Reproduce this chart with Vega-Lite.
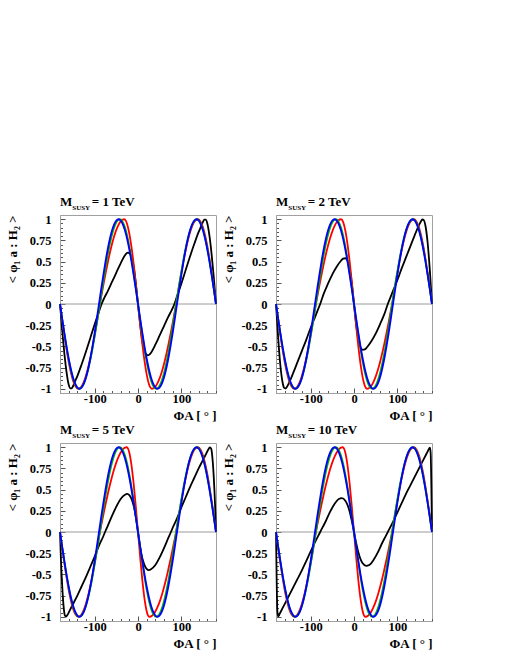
{
"$schema": "https://vega.github.io/schema/vega-lite/v6.json",
"background": "white",
"padding": {"left": 6, "top": 195, "right": 0, "bottom": 0},
"datasets": {
"zero": [{"x":-180,"y":0},{"x":180,"y":0}],
"blue": [{"x":-180,"y":0},{"x":-175,"y":-0.174},{"x":-170,"y":-0.342},{"x":-165,"y":-0.5},{"x":-160,"y":-0.643},{"x":-155,"y":-0.766},{"x":-150,"y":-0.866},{"x":-145,"y":-0.94},{"x":-140,"y":-0.985},{"x":-135,"y":-1},{"x":-130,"y":-0.985},{"x":-125,"y":-0.94},{"x":-120,"y":-0.866},{"x":-115,"y":-0.766},{"x":-110,"y":-0.643},{"x":-105,"y":-0.5},{"x":-100,"y":-0.342},{"x":-95,"y":-0.174},{"x":-90,"y":0},{"x":-85,"y":0.174},{"x":-80,"y":0.342},{"x":-75,"y":0.5},{"x":-70,"y":0.643},{"x":-65,"y":0.766},{"x":-60,"y":0.866},{"x":-55,"y":0.94},{"x":-50,"y":0.985},{"x":-45,"y":1},{"x":-40,"y":0.985},{"x":-35,"y":0.94},{"x":-30,"y":0.866},{"x":-25,"y":0.766},{"x":-20,"y":0.643},{"x":-15,"y":0.5},{"x":-10,"y":0.342},{"x":-5,"y":0.174},{"x":0,"y":0},{"x":5,"y":-0.174},{"x":10,"y":-0.342},{"x":15,"y":-0.5},{"x":20,"y":-0.643},{"x":25,"y":-0.766},{"x":30,"y":-0.866},{"x":35,"y":-0.94},{"x":40,"y":-0.985},{"x":45,"y":-1},{"x":50,"y":-0.985},{"x":55,"y":-0.94},{"x":60,"y":-0.866},{"x":65,"y":-0.766},{"x":70,"y":-0.643},{"x":75,"y":-0.5},{"x":80,"y":-0.342},{"x":85,"y":-0.174},{"x":90,"y":0},{"x":95,"y":0.174},{"x":100,"y":0.342},{"x":105,"y":0.5},{"x":110,"y":0.643},{"x":115,"y":0.766},{"x":120,"y":0.866},{"x":125,"y":0.94},{"x":130,"y":0.985},{"x":135,"y":1},{"x":140,"y":0.985},{"x":145,"y":0.94},{"x":150,"y":0.866},{"x":155,"y":0.766},{"x":160,"y":0.643},{"x":165,"y":0.5},{"x":170,"y":0.342},{"x":175,"y":0.174},{"x":180,"y":0}],
"green": [{"x":-180,"y":0},{"x":-175,"y":-0.177},{"x":-170,"y":-0.35},{"x":-165,"y":-0.51},{"x":-160,"y":-0.655},{"x":-155,"y":-0.778},{"x":-150,"y":-0.878},{"x":-145,"y":-0.949},{"x":-140,"y":-0.99},{"x":-136,"y":-1},{"x":-130,"y":-0.981},{"x":-125,"y":-0.936},{"x":-120,"y":-0.866},{"x":-115,"y":-0.773},{"x":-110,"y":-0.659},{"x":-105,"y":-0.528},{"x":-100,"y":-0.383},{"x":-95,"y":-0.227},{"x":-88,"y":0},{"x":-85,"y":0.102},{"x":-80,"y":0.269},{"x":-75,"y":0.429},{"x":-70,"y":0.576},{"x":-65,"y":0.707},{"x":-60,"y":0.817},{"x":-55,"y":0.903},{"x":-50,"y":0.963},{"x":-45,"y":0.995},{"x":-42,"y":1},{"x":-35,"y":0.966},{"x":-30,"y":0.901},{"x":-25,"y":0.805},{"x":-20,"y":0.68},{"x":-15,"y":0.532},{"x":-10,"y":0.365},{"x":-5,"y":0.186},{"x":0,"y":0},{"x":5,"y":-0.186},{"x":10,"y":-0.365},{"x":15,"y":-0.532},{"x":20,"y":-0.68},{"x":25,"y":-0.805},{"x":30,"y":-0.901},{"x":35,"y":-0.966},{"x":42,"y":-1},{"x":45,"y":-0.995},{"x":50,"y":-0.963},{"x":55,"y":-0.903},{"x":60,"y":-0.817},{"x":65,"y":-0.707},{"x":70,"y":-0.576},{"x":75,"y":-0.429},{"x":80,"y":-0.269},{"x":85,"y":-0.102},{"x":88,"y":0},{"x":95,"y":0.227},{"x":100,"y":0.383},{"x":105,"y":0.528},{"x":110,"y":0.659},{"x":115,"y":0.773},{"x":120,"y":0.866},{"x":125,"y":0.936},{"x":130,"y":0.981},{"x":136,"y":1},{"x":140,"y":0.99},{"x":145,"y":0.949},{"x":150,"y":0.878},{"x":155,"y":0.778},{"x":160,"y":0.655},{"x":165,"y":0.51},{"x":170,"y":0.35},{"x":175,"y":0.177},{"x":180,"y":0}],
"r1": [{"x":-180,"y":0},{"x":-175,"y":-0.186},{"x":-170,"y":-0.365},{"x":-165,"y":-0.532},{"x":-160,"y":-0.681},{"x":-155,"y":-0.805},{"x":-150,"y":-0.901},{"x":-145,"y":-0.966},{"x":-138,"y":-1},{"x":-130,"y":-0.969},{"x":-125,"y":-0.918},{"x":-120,"y":-0.844},{"x":-115,"y":-0.75},{"x":-110,"y":-0.637},{"x":-105,"y":-0.509},{"x":-100,"y":-0.368},{"x":-95,"y":-0.218},{"x":-88,"y":0},{"x":-85,"y":0.084},{"x":-80,"y":0.223},{"x":-75,"y":0.357},{"x":-70,"y":0.484},{"x":-65,"y":0.601},{"x":-60,"y":0.707},{"x":-55,"y":0.799},{"x":-50,"y":0.875},{"x":-45,"y":0.934},{"x":-40,"y":0.975},{"x":-35,"y":0.996},{"x":-32,"y":1},{"x":-28,"y":0.981},{"x":-25,"y":0.941},{"x":-20,"y":0.831},{"x":-15,"y":0.672},{"x":-10,"y":0.471},{"x":-5,"y":0.243},{"x":0,"y":0},{"x":5,"y":-0.243},{"x":10,"y":-0.471},{"x":15,"y":-0.672},{"x":20,"y":-0.831},{"x":25,"y":-0.941},{"x":28,"y":-0.981},{"x":32,"y":-1},{"x":35,"y":-0.996},{"x":40,"y":-0.975},{"x":45,"y":-0.934},{"x":50,"y":-0.875},{"x":55,"y":-0.799},{"x":60,"y":-0.707},{"x":65,"y":-0.601},{"x":70,"y":-0.484},{"x":75,"y":-0.357},{"x":80,"y":-0.223},{"x":85,"y":-0.084},{"x":88,"y":0},{"x":95,"y":0.218},{"x":100,"y":0.368},{"x":105,"y":0.509},{"x":110,"y":0.637},{"x":115,"y":0.75},{"x":120,"y":0.844},{"x":125,"y":0.918},{"x":130,"y":0.969},{"x":138,"y":1},{"x":145,"y":0.966},{"x":150,"y":0.901},{"x":155,"y":0.805},{"x":160,"y":0.681},{"x":165,"y":0.532},{"x":170,"y":0.365},{"x":175,"y":0.186},{"x":180,"y":0}],
"r2": [{"x":-180,"y":0},{"x":-175,"y":-0.186},{"x":-170,"y":-0.365},{"x":-165,"y":-0.532},{"x":-160,"y":-0.681},{"x":-155,"y":-0.805},{"x":-150,"y":-0.901},{"x":-145,"y":-0.966},{"x":-138,"y":-1},{"x":-130,"y":-0.969},{"x":-125,"y":-0.918},{"x":-120,"y":-0.844},{"x":-115,"y":-0.75},{"x":-110,"y":-0.637},{"x":-105,"y":-0.509},{"x":-100,"y":-0.368},{"x":-95,"y":-0.218},{"x":-88,"y":0},{"x":-85,"y":0.08},{"x":-80,"y":0.215},{"x":-75,"y":0.345},{"x":-70,"y":0.468},{"x":-65,"y":0.583},{"x":-60,"y":0.687},{"x":-55,"y":0.779},{"x":-50,"y":0.857},{"x":-45,"y":0.918},{"x":-40,"y":0.964},{"x":-35,"y":0.991},{"x":-30,"y":1},{"x":-25,"y":0.966},{"x":-20,"y":0.866},{"x":-15,"y":0.707},{"x":-10,"y":0.5},{"x":-5,"y":0.259},{"x":0,"y":0},{"x":5,"y":-0.259},{"x":10,"y":-0.5},{"x":15,"y":-0.707},{"x":20,"y":-0.866},{"x":25,"y":-0.966},{"x":30,"y":-1},{"x":35,"y":-0.991},{"x":40,"y":-0.964},{"x":45,"y":-0.918},{"x":50,"y":-0.857},{"x":55,"y":-0.779},{"x":60,"y":-0.687},{"x":65,"y":-0.583},{"x":70,"y":-0.468},{"x":75,"y":-0.345},{"x":80,"y":-0.215},{"x":85,"y":-0.08},{"x":88,"y":0},{"x":95,"y":0.218},{"x":100,"y":0.368},{"x":105,"y":0.509},{"x":110,"y":0.637},{"x":115,"y":0.75},{"x":120,"y":0.844},{"x":125,"y":0.918},{"x":130,"y":0.969},{"x":138,"y":1},{"x":145,"y":0.966},{"x":150,"y":0.901},{"x":155,"y":0.805},{"x":160,"y":0.681},{"x":165,"y":0.532},{"x":170,"y":0.365},{"x":175,"y":0.186},{"x":180,"y":0}],
"r34": [{"x":-180,"y":0},{"x":-175,"y":-0.186},{"x":-170,"y":-0.365},{"x":-165,"y":-0.532},{"x":-160,"y":-0.681},{"x":-155,"y":-0.805},{"x":-150,"y":-0.901},{"x":-145,"y":-0.966},{"x":-138,"y":-1},{"x":-130,"y":-0.969},{"x":-125,"y":-0.918},{"x":-120,"y":-0.844},{"x":-115,"y":-0.75},{"x":-110,"y":-0.637},{"x":-105,"y":-0.509},{"x":-100,"y":-0.368},{"x":-95,"y":-0.218},{"x":-88,"y":0},{"x":-85,"y":0.076},{"x":-80,"y":0.201},{"x":-75,"y":0.324},{"x":-70,"y":0.44},{"x":-65,"y":0.551},{"x":-60,"y":0.651},{"x":-55,"y":0.742},{"x":-50,"y":0.821},{"x":-45,"y":0.886},{"x":-40,"y":0.938},{"x":-35,"y":0.974},{"x":-30,"y":0.995},{"x":-26,"y":1},{"x":-23,"y":0.984},{"x":-20,"y":0.935},{"x":-15,"y":0.787},{"x":-10,"y":0.568},{"x":-5,"y":0.297},{"x":0,"y":0},{"x":5,"y":-0.297},{"x":10,"y":-0.568},{"x":15,"y":-0.787},{"x":20,"y":-0.935},{"x":23,"y":-0.984},{"x":26,"y":-1},{"x":30,"y":-0.995},{"x":35,"y":-0.974},{"x":40,"y":-0.938},{"x":45,"y":-0.886},{"x":50,"y":-0.821},{"x":55,"y":-0.742},{"x":60,"y":-0.651},{"x":65,"y":-0.551},{"x":70,"y":-0.44},{"x":75,"y":-0.324},{"x":80,"y":-0.201},{"x":85,"y":-0.076},{"x":88,"y":0},{"x":95,"y":0.218},{"x":100,"y":0.368},{"x":105,"y":0.509},{"x":110,"y":0.637},{"x":115,"y":0.75},{"x":120,"y":0.844},{"x":125,"y":0.918},{"x":130,"y":0.969},{"x":138,"y":1},{"x":145,"y":0.966},{"x":150,"y":0.901},{"x":155,"y":0.805},{"x":160,"y":0.681},{"x":165,"y":0.532},{"x":170,"y":0.365},{"x":175,"y":0.186},{"x":180,"y":0}],
"k1": [{"x":-180,"y":0},{"x":-175,"y":-0.31},{"x":-170,"y":-0.58},{"x":-165,"y":-0.8},{"x":-160,"y":-0.95},{"x":-156,"y":-0.995},{"x":-153,"y":-0.995},{"x":-150,"y":-0.97},{"x":-145,"y":-0.91},{"x":-140,"y":-0.85},{"x":-130,"y":-0.71},{"x":-120,"y":-0.56},{"x":-110,"y":-0.4},{"x":-100,"y":-0.24},{"x":-90,"y":-0.09},{"x":-84,"y":0},{"x":-78,"y":0.07},{"x":-70,"y":0.15},{"x":-60,"y":0.26},{"x":-50,"y":0.37},{"x":-40,"y":0.48},{"x":-30,"y":0.575},{"x":-27,"y":0.595},{"x":-23,"y":0.605},{"x":-20,"y":0.598},{"x":-15,"y":0.56},{"x":-10,"y":0.44},{"x":-5,"y":0.24},{"x":0,"y":0},{"x":5,"y":-0.24},{"x":10,"y":-0.44},{"x":15,"y":-0.56},{"x":20,"y":-0.598},{"x":23,"y":-0.605},{"x":27,"y":-0.595},{"x":30,"y":-0.575},{"x":40,"y":-0.48},{"x":50,"y":-0.37},{"x":60,"y":-0.26},{"x":70,"y":-0.15},{"x":78,"y":-0.07},{"x":84,"y":0},{"x":90,"y":0.09},{"x":100,"y":0.24},{"x":110,"y":0.4},{"x":120,"y":0.56},{"x":130,"y":0.71},{"x":140,"y":0.85},{"x":145,"y":0.91},{"x":150,"y":0.97},{"x":153,"y":0.995},{"x":156,"y":0.995},{"x":160,"y":0.95},{"x":165,"y":0.8},{"x":170,"y":0.58},{"x":175,"y":0.31},{"x":180,"y":0}],
"k2": [{"x":-180,"y":0},{"x":-175,"y":-0.4},{"x":-170,"y":-0.72},{"x":-165,"y":-0.92},{"x":-161,"y":-0.99},{"x":-158,"y":-0.997},{"x":-155,"y":-0.98},{"x":-150,"y":-0.93},{"x":-140,"y":-0.81},{"x":-130,"y":-0.68},{"x":-120,"y":-0.55},{"x":-110,"y":-0.42},{"x":-100,"y":-0.28},{"x":-90,"y":-0.155},{"x":-85,"y":-0.09},{"x":-78,"y":0},{"x":-70,"y":0.12},{"x":-60,"y":0.24},{"x":-50,"y":0.35},{"x":-40,"y":0.44},{"x":-30,"y":0.51},{"x":-25,"y":0.535},{"x":-20,"y":0.54},{"x":-15,"y":0.51},{"x":-10,"y":0.42},{"x":-5,"y":0.24},{"x":0,"y":0},{"x":5,"y":-0.24},{"x":10,"y":-0.42},{"x":15,"y":-0.51},{"x":20,"y":-0.54},{"x":25,"y":-0.535},{"x":30,"y":-0.51},{"x":40,"y":-0.44},{"x":50,"y":-0.35},{"x":60,"y":-0.24},{"x":70,"y":-0.12},{"x":78,"y":0},{"x":85,"y":0.09},{"x":90,"y":0.155},{"x":100,"y":0.28},{"x":110,"y":0.42},{"x":120,"y":0.55},{"x":130,"y":0.68},{"x":140,"y":0.81},{"x":150,"y":0.93},{"x":155,"y":0.98},{"x":158,"y":0.997},{"x":161,"y":0.99},{"x":165,"y":0.92},{"x":170,"y":0.72},{"x":175,"y":0.4},{"x":180,"y":0}],
"k3": [{"x":-180,"y":0},{"x":-178,"y":-0.3},{"x":-175,"y":-0.63},{"x":-172,"y":-0.86},{"x":-169,"y":-0.98},{"x":-166,"y":-0.998},{"x":-163,"y":-0.98},{"x":-158,"y":-0.93},{"x":-150,"y":-0.85},{"x":-140,"y":-0.75},{"x":-130,"y":-0.64},{"x":-120,"y":-0.53},{"x":-110,"y":-0.41},{"x":-100,"y":-0.29},{"x":-90,"y":-0.16},{"x":-80,"y":-0.05},{"x":-76,"y":0},{"x":-70,"y":0.07},{"x":-60,"y":0.19},{"x":-50,"y":0.3},{"x":-40,"y":0.39},{"x":-30,"y":0.44},{"x":-25,"y":0.45},{"x":-20,"y":0.435},{"x":-15,"y":0.39},{"x":-10,"y":0.31},{"x":-5,"y":0.18},{"x":0,"y":0},{"x":5,"y":-0.18},{"x":10,"y":-0.31},{"x":15,"y":-0.39},{"x":20,"y":-0.435},{"x":25,"y":-0.45},{"x":30,"y":-0.44},{"x":40,"y":-0.39},{"x":50,"y":-0.3},{"x":60,"y":-0.19},{"x":70,"y":-0.07},{"x":76,"y":0},{"x":80,"y":0.05},{"x":90,"y":0.16},{"x":100,"y":0.29},{"x":110,"y":0.41},{"x":120,"y":0.53},{"x":130,"y":0.64},{"x":140,"y":0.75},{"x":150,"y":0.85},{"x":158,"y":0.93},{"x":163,"y":0.98},{"x":166,"y":0.998},{"x":169,"y":0.98},{"x":172,"y":0.86},{"x":175,"y":0.63},{"x":178,"y":0.3},{"x":180,"y":0}],
"k4": [{"x":-180,"y":0},{"x":-178.5,"y":-0.55},{"x":-177,"y":-0.92},{"x":-175.5,"y":-0.995},{"x":-174,"y":-0.99},{"x":-171,"y":-0.96},{"x":-167,"y":-0.92},{"x":-160,"y":-0.85},{"x":-150,"y":-0.75},{"x":-140,"y":-0.65},{"x":-130,"y":-0.55},{"x":-120,"y":-0.45},{"x":-110,"y":-0.34},{"x":-100,"y":-0.23},{"x":-90,"y":-0.12},{"x":-78,"y":0},{"x":-72,"y":0.06},{"x":-65,"y":0.13},{"x":-55,"y":0.24},{"x":-45,"y":0.33},{"x":-35,"y":0.39},{"x":-28,"y":0.4},{"x":-20,"y":0.37},{"x":-15,"y":0.32},{"x":-10,"y":0.24},{"x":-5,"y":0.13},{"x":0,"y":0},{"x":5,"y":-0.13},{"x":10,"y":-0.24},{"x":15,"y":-0.32},{"x":20,"y":-0.37},{"x":28,"y":-0.4},{"x":35,"y":-0.39},{"x":45,"y":-0.33},{"x":55,"y":-0.24},{"x":65,"y":-0.13},{"x":72,"y":-0.06},{"x":78,"y":0},{"x":90,"y":0.12},{"x":100,"y":0.23},{"x":110,"y":0.34},{"x":120,"y":0.45},{"x":130,"y":0.55},{"x":140,"y":0.65},{"x":150,"y":0.75},{"x":160,"y":0.85},{"x":167,"y":0.92},{"x":171,"y":0.96},{"x":174,"y":0.99},{"x":175.5,"y":0.995},{"x":177,"y":0.92},{"x":178.5,"y":0.55},{"x":180,"y":0}]
},
"columns": 2,
"spacing": {"row": 50, "column": 60},
"bounds": "flush",
"concat": [
{"width": 156, "height": 178,
 "title": {"text": "M\u00a0\u00a0\u00a0\u00a0\u00a0\u00a0= 1 TeV", "subtitle": "\u200b\u00a0\u00a0\u00a0\u00a0\u00a0\u00a0\u00a0SUSY"},
 "encoding": {
  "x": {"field": "x", "type": "quantitative", "scale": {"domain": [-180, 180], "nice": false, "zero": false},
    "axis": {"title": "ΦA [ ° ]", "titleAnchor": "end", "labelOverlap": false, "values": [-180,-160,-140,-120,-100,-80,-60,-40,-20,0,20,40,60,80,100,120,140,160,180], "labelExpr": "datum.value % 100 == 0 ? '' + datum.value : ''", "tickSize": {"condition": {"test": "datum.value % 100 == 0", "value": -5}, "value": -2.5}}},
  "y": {"field": "y", "type": "quantitative", "scale": {"domain": [-1.05, 1.05], "nice": false, "zero": false},
    "axis": {"title": "< φ₁ a : H₂ >", "titleAnchor": "end", "labelOverlap": false, "values": [-1,-0.95,-0.9,-0.85,-0.8,-0.75,-0.7,-0.65,-0.6,-0.55,-0.5,-0.45,-0.4,-0.35,-0.3,-0.25,-0.2,-0.15,-0.1,-0.05,0,0.05,0.1,0.15,0.2,0.25,0.3,0.35,0.4,0.45,0.5,0.55,0.6,0.65,0.7,0.75,0.8,0.85,0.9,0.95,1], "labelExpr": "abs(datum.value*4 - round(datum.value*4)) < 0.001 ? '' + datum.value : ''", "tickSize": {"condition": {"test": "abs(datum.value*4 - round(datum.value*4)) < 0.001", "value": -5}, "value": -2.5}}}},
 "layer": [
  {"data": {"name": "zero"}, "mark": {"type": "line", "color": "#9a9a9a", "strokeWidth": 1}, "encoding": {}},
  {"data": {"name": "k1"}, "mark": {"type": "line", "color": "#000000", "strokeWidth": 1.8, "interpolate": "monotone"}, "encoding": {}},
  {"data": {"name": "r1"}, "mark": {"type": "line", "color": "#ff0000", "strokeWidth": 1.8, "interpolate": "monotone"}, "encoding": {}},
  {"data": {"name": "green"}, "mark": {"type": "line", "color": "#00b000", "strokeWidth": 1.8, "interpolate": "monotone"}, "encoding": {}},
  {"data": {"name": "blue"}, "mark": {"type": "line", "color": "#0000ff", "strokeWidth": 1.8, "interpolate": "monotone"}, "encoding": {}}
 ]},
{"width": 156, "height": 178,
 "title": {"text": "M\u00a0\u00a0\u00a0\u00a0\u00a0\u00a0= 2 TeV", "subtitle": "\u200b\u00a0\u00a0\u00a0\u00a0\u00a0\u00a0\u00a0SUSY"},
 "encoding": {
  "x": {"field": "x", "type": "quantitative", "scale": {"domain": [-180, 180], "nice": false, "zero": false},
    "axis": {"title": "ΦA [ ° ]", "titleAnchor": "end", "labelOverlap": false, "values": [-180,-160,-140,-120,-100,-80,-60,-40,-20,0,20,40,60,80,100,120,140,160,180], "labelExpr": "datum.value % 100 == 0 ? '' + datum.value : ''", "tickSize": {"condition": {"test": "datum.value % 100 == 0", "value": -5}, "value": -2.5}}},
  "y": {"field": "y", "type": "quantitative", "scale": {"domain": [-1.05, 1.05], "nice": false, "zero": false},
    "axis": {"title": "< φ₁ a : H₂ >", "titleAnchor": "end", "labelOverlap": false, "values": [-1,-0.95,-0.9,-0.85,-0.8,-0.75,-0.7,-0.65,-0.6,-0.55,-0.5,-0.45,-0.4,-0.35,-0.3,-0.25,-0.2,-0.15,-0.1,-0.05,0,0.05,0.1,0.15,0.2,0.25,0.3,0.35,0.4,0.45,0.5,0.55,0.6,0.65,0.7,0.75,0.8,0.85,0.9,0.95,1], "labelExpr": "abs(datum.value*4 - round(datum.value*4)) < 0.001 ? '' + datum.value : ''", "tickSize": {"condition": {"test": "abs(datum.value*4 - round(datum.value*4)) < 0.001", "value": -5}, "value": -2.5}}}},
 "layer": [
  {"data": {"name": "zero"}, "mark": {"type": "line", "color": "#9a9a9a", "strokeWidth": 1}, "encoding": {}},
  {"data": {"name": "k2"}, "mark": {"type": "line", "color": "#000000", "strokeWidth": 1.8, "interpolate": "monotone"}, "encoding": {}},
  {"data": {"name": "r2"}, "mark": {"type": "line", "color": "#ff0000", "strokeWidth": 1.8, "interpolate": "monotone"}, "encoding": {}},
  {"data": {"name": "green"}, "mark": {"type": "line", "color": "#00b000", "strokeWidth": 1.8, "interpolate": "monotone"}, "encoding": {}},
  {"data": {"name": "blue"}, "mark": {"type": "line", "color": "#0000ff", "strokeWidth": 1.8, "interpolate": "monotone"}, "encoding": {}}
 ]},
{"width": 156, "height": 178,
 "title": {"text": "M\u00a0\u00a0\u00a0\u00a0\u00a0\u00a0= 5 TeV", "subtitle": "\u200b\u00a0\u00a0\u00a0\u00a0\u00a0\u00a0\u00a0SUSY"},
 "encoding": {
  "x": {"field": "x", "type": "quantitative", "scale": {"domain": [-180, 180], "nice": false, "zero": false},
    "axis": {"title": "ΦA [ ° ]", "titleAnchor": "end", "labelOverlap": false, "values": [-180,-160,-140,-120,-100,-80,-60,-40,-20,0,20,40,60,80,100,120,140,160,180], "labelExpr": "datum.value % 100 == 0 ? '' + datum.value : ''", "tickSize": {"condition": {"test": "datum.value % 100 == 0", "value": -5}, "value": -2.5}}},
  "y": {"field": "y", "type": "quantitative", "scale": {"domain": [-1.05, 1.05], "nice": false, "zero": false},
    "axis": {"title": "< φ₁ a : H₂ >", "titleAnchor": "end", "labelOverlap": false, "values": [-1,-0.95,-0.9,-0.85,-0.8,-0.75,-0.7,-0.65,-0.6,-0.55,-0.5,-0.45,-0.4,-0.35,-0.3,-0.25,-0.2,-0.15,-0.1,-0.05,0,0.05,0.1,0.15,0.2,0.25,0.3,0.35,0.4,0.45,0.5,0.55,0.6,0.65,0.7,0.75,0.8,0.85,0.9,0.95,1], "labelExpr": "abs(datum.value*4 - round(datum.value*4)) < 0.001 ? '' + datum.value : ''", "tickSize": {"condition": {"test": "abs(datum.value*4 - round(datum.value*4)) < 0.001", "value": -5}, "value": -2.5}}}},
 "layer": [
  {"data": {"name": "zero"}, "mark": {"type": "line", "color": "#9a9a9a", "strokeWidth": 1}, "encoding": {}},
  {"data": {"name": "k3"}, "mark": {"type": "line", "color": "#000000", "strokeWidth": 1.8, "interpolate": "monotone"}, "encoding": {}},
  {"data": {"name": "r34"}, "mark": {"type": "line", "color": "#ff0000", "strokeWidth": 1.8, "interpolate": "monotone"}, "encoding": {}},
  {"data": {"name": "green"}, "mark": {"type": "line", "color": "#00b000", "strokeWidth": 1.8, "interpolate": "monotone"}, "encoding": {}},
  {"data": {"name": "blue"}, "mark": {"type": "line", "color": "#0000ff", "strokeWidth": 1.8, "interpolate": "monotone"}, "encoding": {}}
 ]},
{"width": 156, "height": 178,
 "title": {"text": "M\u00a0\u00a0\u00a0\u00a0\u00a0\u00a0= 10 TeV", "subtitle": "\u200b\u00a0\u00a0\u00a0\u00a0\u00a0\u00a0\u00a0SUSY"},
 "encoding": {
  "x": {"field": "x", "type": "quantitative", "scale": {"domain": [-180, 180], "nice": false, "zero": false},
    "axis": {"title": "ΦA [ ° ]", "titleAnchor": "end", "labelOverlap": false, "values": [-180,-160,-140,-120,-100,-80,-60,-40,-20,0,20,40,60,80,100,120,140,160,180], "labelExpr": "datum.value % 100 == 0 ? '' + datum.value : ''", "tickSize": {"condition": {"test": "datum.value % 100 == 0", "value": -5}, "value": -2.5}}},
  "y": {"field": "y", "type": "quantitative", "scale": {"domain": [-1.05, 1.05], "nice": false, "zero": false},
    "axis": {"title": "< φ₁ a : H₂ >", "titleAnchor": "end", "labelOverlap": false, "values": [-1,-0.95,-0.9,-0.85,-0.8,-0.75,-0.7,-0.65,-0.6,-0.55,-0.5,-0.45,-0.4,-0.35,-0.3,-0.25,-0.2,-0.15,-0.1,-0.05,0,0.05,0.1,0.15,0.2,0.25,0.3,0.35,0.4,0.45,0.5,0.55,0.6,0.65,0.7,0.75,0.8,0.85,0.9,0.95,1], "labelExpr": "abs(datum.value*4 - round(datum.value*4)) < 0.001 ? '' + datum.value : ''", "tickSize": {"condition": {"test": "abs(datum.value*4 - round(datum.value*4)) < 0.001", "value": -5}, "value": -2.5}}}},
 "layer": [
  {"data": {"name": "zero"}, "mark": {"type": "line", "color": "#9a9a9a", "strokeWidth": 1}, "encoding": {}},
  {"data": {"name": "k4"}, "mark": {"type": "line", "color": "#000000", "strokeWidth": 1.8, "interpolate": "monotone"}, "encoding": {}},
  {"data": {"name": "r34"}, "mark": {"type": "line", "color": "#ff0000", "strokeWidth": 1.8, "interpolate": "monotone"}, "encoding": {}},
  {"data": {"name": "green"}, "mark": {"type": "line", "color": "#00b000", "strokeWidth": 1.8, "interpolate": "monotone"}, "encoding": {}},
  {"data": {"name": "blue"}, "mark": {"type": "line", "color": "#0000ff", "strokeWidth": 1.8, "interpolate": "monotone"}, "encoding": {}}
 ]}
],
"config": {
 "view": {"stroke": "#a0a0a0", "strokeWidth": 1},
 "axis": {"grid": false, "labelOverlap": false, "domainColor": "#a0a0a0", "domainWidth": 1, "tickColor": "#555555", "tickWidth": 1, "labelFont": "Liberation Serif", "labelFontWeight": "bold", "labelFontSize": 12.5, "labelColor": "#000000", "titleFont": "Liberation Serif", "titleFontWeight": "bold", "titleFontSize": 13, "titleColor": "#000000"},
 "axisX": {"labelPadding": 4, "titlePadding": 2},
 "axisY": {"labelPadding": 14, "titlePadding": 5},
 "title": {"font": "Liberation Serif", "fontWeight": "bold", "fontSize": 13, "anchor": "start", "frame": "group", "color": "#000000", "offset": 2, "subtitleFont": "Liberation Serif", "subtitleFontWeight": "bold", "subtitleFontSize": 7, "subtitleColor": "#000000", "subtitlePadding": -5}
}
}
